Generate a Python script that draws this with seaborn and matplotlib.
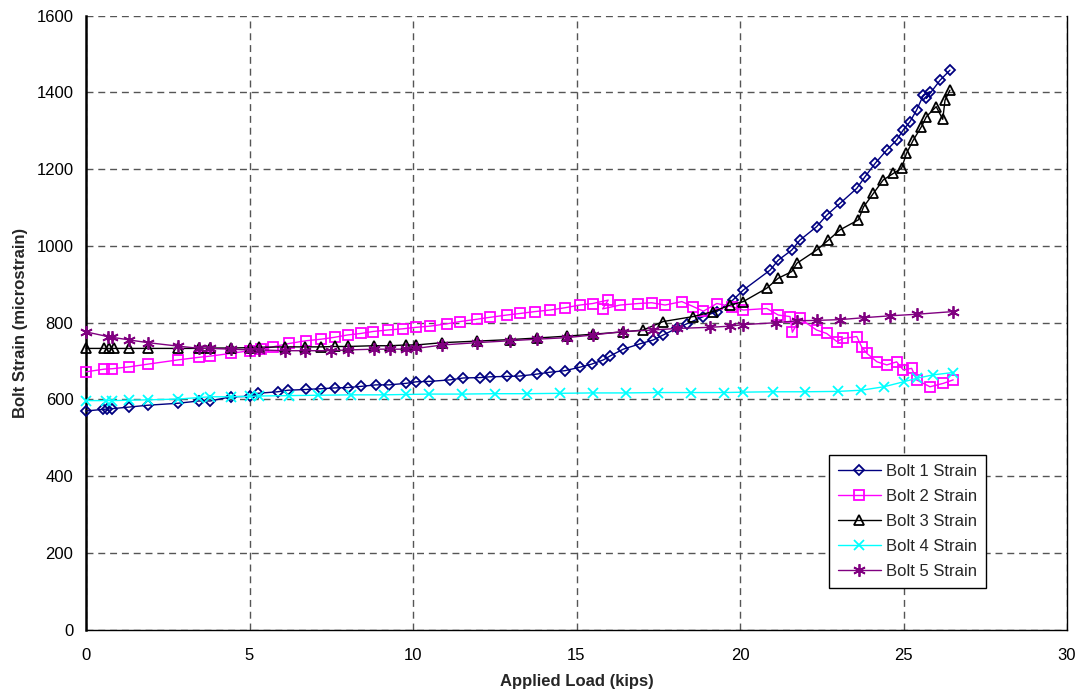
import matplotlib
matplotlib.use("Agg")
import matplotlib.pyplot as plt
import seaborn as sns
import pandas as pd

# ---- data ----
bolt1_x = [0.0, 0.51, 0.65, 0.8, 1.3, 1.9, 2.8, 3.45, 3.8, 4.43, 5.0, 5.25, 5.86, 6.17, 6.73, 7.19, 7.6, 8.0,
           8.4, 8.87, 9.27, 9.79, 10.1, 10.5, 11.13, 11.54, 12.05, 12.35, 12.87, 13.27, 13.78, 14.19, 14.65,
           15.1, 15.46, 15.82, 16.02, 16.43, 16.94, 17.35, 17.65, 18.06, 18.37, 18.88, 19.29, 19.78, 20.1,
           20.92, 21.17, 21.58, 21.83, 22.34, 22.65, 23.06, 23.57, 23.82, 24.13, 24.49, 24.79, 24.99, 25.2,
           25.4, 25.61, 25.81, 25.7, 26.12, 26.42]
bolt1_y = [570, 574, 575, 576, 580, 585, 590, 596, 596, 607, 608, 616, 620, 624, 626, 628, 630, 631,
           634, 638, 638, 642, 646, 647, 651, 656, 657, 659, 660, 661, 666, 671, 675,
           684, 692, 703, 713, 731, 745, 755, 768, 785, 797, 816, 829, 859, 885,
           937, 963, 989, 1015, 1050, 1080, 1111, 1150, 1180, 1215, 1250, 1276, 1302, 1324,
           1354, 1393, 1402, 1385, 1432, 1458]

bolt2_x = [0.0, 0.56, 0.8, 1.33, 1.89, 2.81, 3.47, 3.8, 4.43, 5.0, 5.35, 5.71, 6.22, 6.73, 7.19, 7.6, 8.0,
           8.41, 8.77, 9.23, 9.68, 10.1, 10.52, 11.03, 11.44, 11.95, 12.35, 12.87, 13.27, 13.73, 14.19,
           14.65, 15.1, 15.5, 15.97, 15.8, 16.33, 16.89, 17.3, 17.71, 18.22, 18.57, 18.88, 19.29, 19.75,
           20.1, 20.82, 21.17, 21.53, 21.6, 21.83, 22.34, 22.65, 22.96, 23.16, 23.57, 23.72, 23.88, 24.19,
           24.49, 24.79, 24.99, 25.25, 25.4, 25.81, 26.22, 26.52]
bolt2_y = [672, 679, 680, 685, 692, 703, 710, 713, 720, 727, 731, 737, 746, 753, 757, 762, 768,
           772, 777, 781, 784, 788, 791, 797, 803, 809, 814, 820, 824, 829, 833,
           839, 846, 850, 859, 836, 846, 850, 852, 846, 855, 842, 830, 850, 842,
           833, 837, 820, 816, 775, 811, 781, 772, 751, 759, 764, 737, 720, 698,
           690, 698, 677, 681, 651, 633, 642, 651]

bolt3_x = [0.0, 0.55, 0.7, 0.85, 1.33, 1.89, 2.81, 3.47, 3.8, 4.43, 5.0, 5.3, 6.1, 6.7, 7.2, 7.6, 8.0,
           8.8, 9.3, 9.8, 10.1, 10.9, 11.95, 12.97, 13.78, 14.7, 15.5, 16.43, 17.04, 17.65, 18.57, 19.18,
           19.7, 20.1, 20.82, 21.17, 21.58, 21.74, 22.34, 22.7, 23.06, 23.62, 23.78, 24.08, 24.38, 24.69,
           24.94, 25.09, 25.3, 25.55, 25.7, 26.0, 26.2, 26.27, 26.42]
bolt3_y = [733, 733, 733, 733, 733, 733, 733, 733, 734, 734, 735, 736, 737, 737, 737, 738, 738,
           740, 740, 742, 742, 748, 752, 756, 760, 765, 770, 776, 781, 803, 816, 829,
           846, 855, 890, 916, 933, 955, 989, 1015, 1042, 1068, 1102, 1137, 1172, 1189,
           1202, 1241, 1276, 1311, 1337, 1363, 1330, 1380, 1406]

bolt4_x = [0.0, 0.61, 0.8, 1.33, 1.89, 2.81, 3.47, 3.8, 4.43, 5.0, 5.3, 6.2, 7.1, 8.1, 9.1, 9.8, 10.5,
           11.5, 12.5, 13.5, 14.5, 15.5, 16.5, 17.5, 18.5, 19.5, 20.1, 21.0, 22.0, 23.0, 23.7, 24.4,
           25.0, 25.4, 25.9, 26.5]
bolt4_y = [597, 597, 597, 598, 599, 601, 605, 607, 607, 608, 609, 610, 611, 612, 612, 613, 614,
           614, 615, 615, 616, 617, 617, 618, 618, 618, 619, 620, 620, 621, 624, 633,
           646, 655, 664, 670]

bolt5_x = [0.0, 0.66, 0.8, 1.33, 1.89, 2.81, 3.47, 3.8, 4.43, 5.0, 5.3, 6.1, 6.7, 7.5, 8.0, 8.8, 9.3, 9.8,
           10.1, 10.9, 11.95, 12.97, 13.78, 14.7, 15.5, 16.43, 17.35, 18.06, 19.08, 19.7, 20.1, 21.1,
           21.74, 22.34, 23.06, 23.78, 24.6, 25.4, 26.52]
bolt5_y = [776, 764, 762, 755, 748, 739, 733, 733, 731, 729, 729, 727, 727, 727, 729, 731, 731, 731,
           733, 742, 748, 753, 757, 761, 768, 777, 781, 785, 788, 791, 795, 800,
           805, 806, 808, 813, 818, 822, 829]

series_names = ["Bolt 1 Strain", "Bolt 2 Strain", "Bolt 3 Strain", "Bolt 4 Strain", "Bolt 5 Strain"]
x_ticks = [0, 5, 10, 15, 20, 25, 30]
y_ticks = [0, 200, 400, 600, 800, 1000, 1200, 1400, 1600]

# ---- styles ----
colors = ["#000080", "#FF00FF", "#000000", "#00FFFF", "#800080"]
markers = ["D", "s", "^", "x", (6, 2, 0)]
msizes = [5.5, 7.0, 7.5, 7.0, 9.0]

sns.set_style("white")
plt.rcParams["font.family"] = ["Liberation Sans", "DejaVu Sans"]

fig = plt.figure(figsize=(10.81, 6.98), dpi=100)
ax = fig.add_axes([86 / 1081, 1 - 629.7 / 698, (1067 - 86) / 1081, (629.7 - 15.7) / 698])

data = [(bolt1_x, bolt1_y), (bolt2_x, bolt2_y), (bolt3_x, bolt3_y), (bolt4_x, bolt4_y), (bolt5_x, bolt5_y)]
for (xs, ys), name, c, m, ms in zip(data, series_names, colors, markers, msizes):
    df = pd.DataFrame({"load": xs, "strain": ys})
    filled = m in ("x", (6, 2, 0))
    sns.lineplot(data=df, x="load", y="strain", ax=ax, sort=False, estimator=None,
                 color=c, marker=m, markersize=ms, linewidth=1.0,
                 markerfacecolor=c if filled else "none", markeredgecolor=c,
                 markeredgewidth=1.3, label=name, clip_on=False, zorder=3)

ax.set_xlim(0, 30)
ax.set_ylim(0, 1600)
ax.set_xticks(x_ticks)
ax.set_yticks(y_ticks)
ax.set_xticklabels([str(t) for t in x_ticks], fontsize=12)
ax.set_yticklabels([str(t) for t in y_ticks], fontsize=12)
ax.tick_params(axis="both", direction="out", length=5, width=1, color="#808080", pad=4, colors="black")
ax.tick_params(axis="x", pad=8)

ax.grid(True, which="major", linestyle=(0, (5, 3.5)), color="#555555", linewidth=1.0)
ax.set_axisbelow(True)

ax.spines["top"].set_visible(False)
ax.spines["left"].set_color("black")
ax.spines["left"].set_linewidth(1.8)
ax.spines["bottom"].set_color("black")
ax.spines["bottom"].set_linewidth(1.0)
ax.spines["right"].set_color("black")
ax.spines["right"].set_linewidth(1.0)

ax.set_xlabel("Applied Load (kips)", fontsize=12, fontweight="bold", labelpad=8)
ax.set_ylabel("Bolt Strain (microstrain)", fontsize=12, fontweight="bold", labelpad=6)

leg = ax.legend(loc="upper left", bbox_to_anchor=(0.757, 0.2845), frameon=True, fancybox=False,
                edgecolor="black", fontsize=12, borderpad=0.55, labelspacing=0.6, handlelength=2.6,
                handletextpad=0.3, borderaxespad=0)
leg.get_frame().set_linewidth(1.0)
leg.get_frame().set_alpha(1)

fig.savefig("out.png", dpi=100)
